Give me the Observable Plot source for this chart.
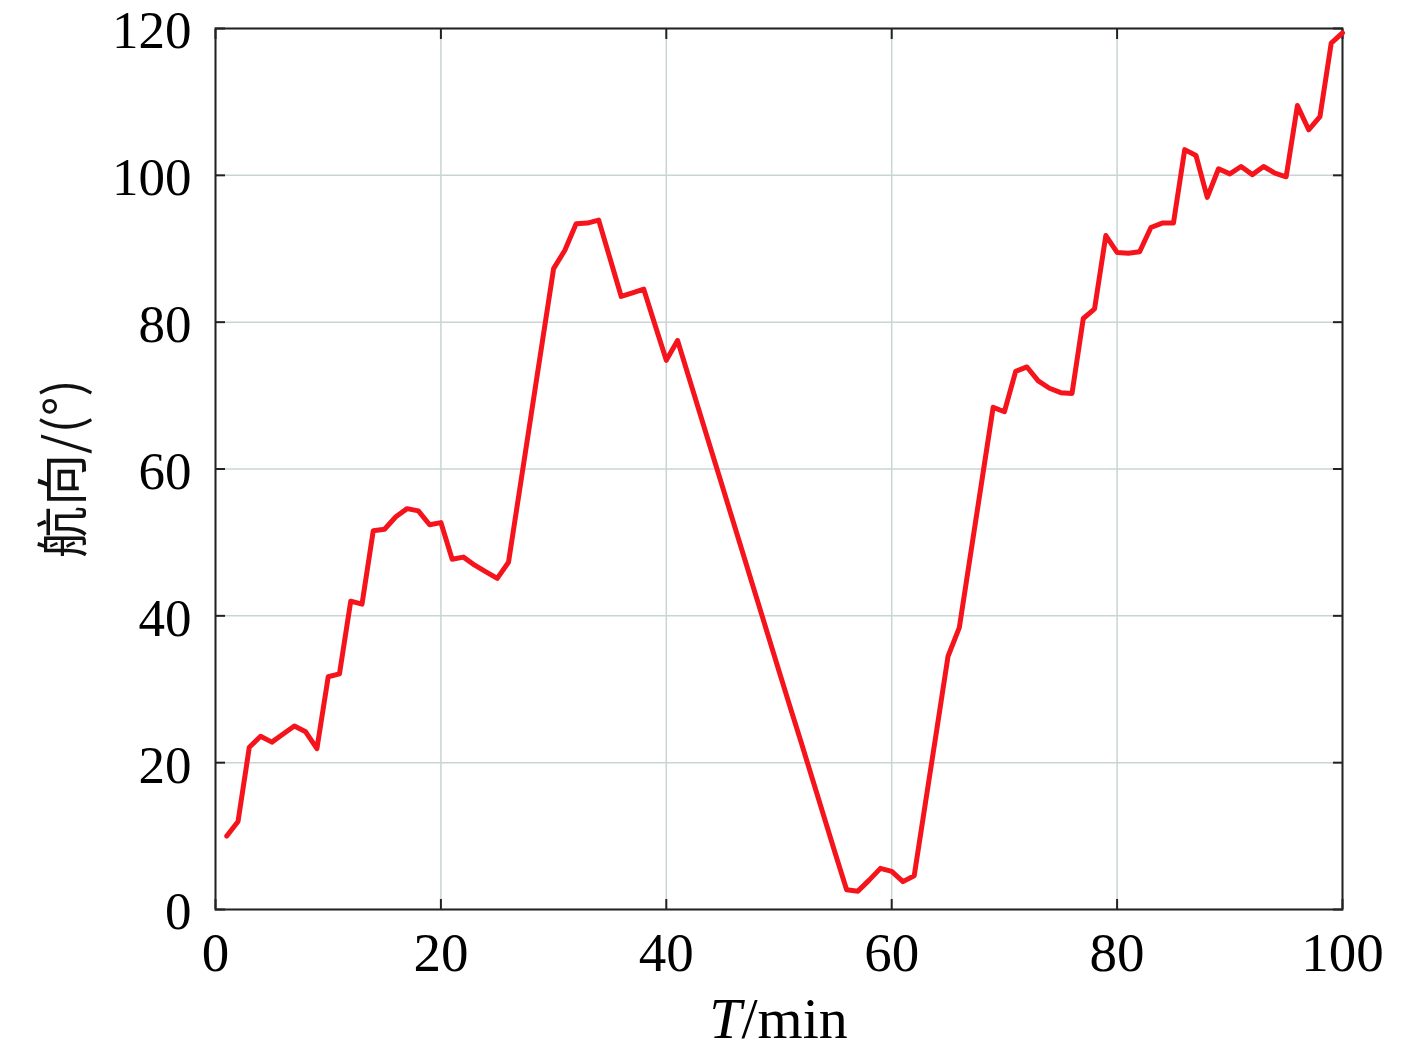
<!DOCTYPE html>
<html>
<head>
<meta charset="utf-8">
<script src="https://cdn.jsdelivr.net/npm/d3@7"></script>
<script src="https://cdn.jsdelivr.net/npm/@observablehq/plot@0.6"></script>
<style>
  html, body { margin: 0; padding: 0; background: #fff; }
  #chart { position: relative; width: 1417px; height: 1049px; }
</style>
</head>
<body>
<div id="chart"></div>
<script>
// Time (min)
const minutes = [
  1,2,3,4,5,6,7,8,9,10,11,12,13,14,15,16,17,18,19,20,
  21,22,23,24,25,26,27,28,29,30,31,32,33,34,35,36,37,38,39,40,
  41,42,43,44,45,46,47,48,49,50,51,52,53,54,55,56,57,58,59,60,
  61,62,63,64,65,66,67,68,69,70,71,72,73,74,75,76,77,78,79,80,
  81,82,83,84,85,86,87,88,89,90,91,92,93,94,95,96,97,98,99,100
];
// Heading (deg)
const heading = [
  10.0,12.0,22.1,23.6,22.8,23.9,25.0,24.2,21.9,31.7,
  32.1,42.0,41.6,51.6,51.8,53.5,54.6,54.3,52.4,52.7,
  47.7,48.0,46.9,46.0,45.1,47.3,57.3,67.3,77.3,87.3,
  89.8,93.4,93.5,93.9,88.7,83.5,84.0,84.5,79.6,74.8,
  77.5,72.5,67.5,62.5,57.5,52.5,47.5,42.5,37.5,32.5,
  27.5,22.6,17.6,12.6,7.6,2.7,2.5,4.0,5.6,5.2,
  3.8,4.6,14.6,24.5,34.5,38.4,48.4,58.4,68.4,67.8,
  73.3,73.9,72.0,71.0,70.4,70.3,80.5,81.8,91.8,89.5,
  89.4,89.6,92.9,93.5,93.5,103.5,102.7,97.0,100.9,100.2,
  101.2,100.1,101.2,100.3,99.8,109.5,106.2,108.0,118.0,119.4
];
const xTicks = [0, 20, 40, 60, 80, 100];
const yTicks = [0, 20, 40, 60, 80, 100, 120];

const data = minutes.map((t, i) => ({t, v: heading[i]}));

const W = 1417, H = 1049;
const mL = 215, mR = 75, mT = 28, mB = 140;
const font = "'Liberation Serif', 'DejaVu Serif', serif";

const chart = Plot.plot({
  width: W,
  height: H,
  marginLeft: mL,
  marginRight: mR,
  marginTop: mT,
  marginBottom: mB,
  style: {fontFamily: font, background: "#fff", overflow: "visible"},
  x: {domain: [0, 100]},
  y: {domain: [0, 120]},
  marks: [
    Plot.gridX(xTicks, {stroke: "#c9d4d4", strokeOpacity: 1, strokeWidth: 1.5}),
    Plot.gridY(yTicks, {stroke: "#c9d4d4", strokeOpacity: 1, strokeWidth: 1.5}),
    // inward ticks on all four sides
    Plot.axisX(xTicks, {anchor: "bottom", tickSize: -10, tickFormat: () => "", stroke: "#222", strokeWidth: 2, label: null}),
    Plot.axisX(xTicks, {anchor: "top", tickSize: -10, tickFormat: () => "", stroke: "#222", strokeWidth: 2, label: null}),
    Plot.axisY(yTicks, {anchor: "left", tickSize: -10, tickFormat: () => "", stroke: "#222", strokeWidth: 2, label: null}),
    Plot.axisY(yTicks, {anchor: "right", tickSize: -10, tickFormat: () => "", stroke: "#222", strokeWidth: 2, label: null}),
    // tick labels
    Plot.axisX(xTicks, {anchor: "bottom", tickSize: 0, tickPadding: 22, fontSize: 55, fill: "#000", label: null, tickFormat: d => String(d)}),
    Plot.axisY(yTicks, {anchor: "left", tickSize: 0, tickPadding: 24, fontSize: 53, dy: 3, fill: "#000", label: null, tickFormat: d => String(d)}),
    Plot.frame({stroke: "#222", strokeWidth: 2}),
    Plot.line(data, {x: "t", y: "v", stroke: "#f6141c", strokeWidth: 5, strokeLinejoin: "round", strokeLinecap: "round"})
  ]
});

document.getElementById("chart").appendChild(chart);

// axis titles
const svg = d3.select(chart);
const plotCx = mL + (W - mL - mR) / 2;
const xt = svg.append("text")
  .attr("x", plotCx)
  .attr("y", 1038)
  .attr("text-anchor", "middle")
  .attr("font-family", font)
  .attr("font-size", 58)
  .attr("fill", "#000");
xt.append("tspan").attr("font-style", "italic").text("T");
xt.append("tspan").text("/min");

const plotCy = mT + (H - mT - mB) / 2;
svg.append("text")
  .attr("transform", `translate(82, ${plotCy}) rotate(-90)`)
  .attr("text-anchor", "middle")
  .attr("font-family", "'Noto Sans CJK SC', 'Liberation Serif', serif")
  .attr("font-size", 52)
  .attr("fill", "#111")
  .text("航向/(°)");
</script>
</body>
</html>
